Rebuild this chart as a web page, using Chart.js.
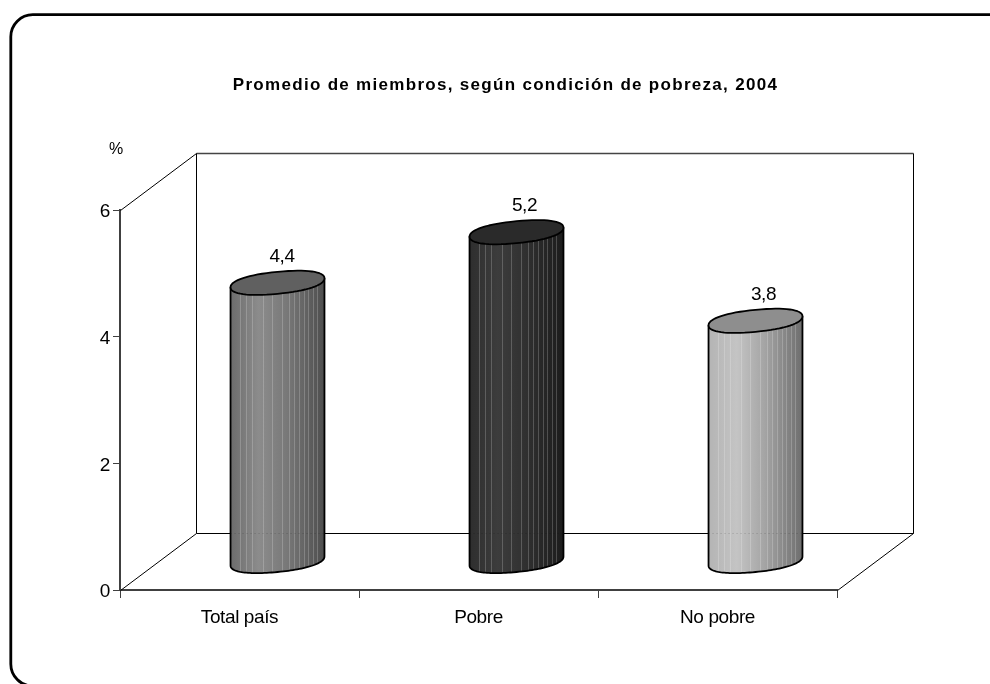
<!DOCTYPE html>
<html><head><meta charset="utf-8">
<style>html,body{margin:0;padding:0;background:#fff;overflow:hidden}canvas{display:block}</style>
<script src="https://cdn.jsdelivr.net/npm/chart.js@4/dist/chart.umd.js"></script>
</head><body><canvas id="c" width="990" height="684"></canvas>
<script>
const categories = ["Total país", "Pobre", "No pobre"];
const values = [4.4, 5.2, 3.8];
const valueLabels = ["4,4", "5,2", "3,8"];
const yTicks = [0, 2, 4, 6];
const chartTitle = "Promedio de miembros, según condición de pobreza, 2004";
const unitLabel = "%";
const topColors = ["#606060", "#2a2a2a", "#8e8e8e"];
const sideStops = [
  ["#6c6c6c", "#8c8c8c", "#787878", "#4e4e4e"],
  ["#2e2e2e", "#3c3c3c", "#303030", "#1c1c1c"],
  ["#b4b4b4", "#c4c4c4", "#a4a4a4", "#6e6e6e"]
];
const stripes = [.10,.16,.23,.35,.44,.55,.62,.68,.73,.78,.83,.88,.92];
const labelNudge = [4.5, 8, 8];
const DX = 76, DY = 57, TILT = 4.5, RY = 11, ROUND = 0.9;
const FONT = '"Liberation Sans",Arial,sans-serif';

function line(ctx, x1, y1, x2, y2, color, w) {
  ctx.beginPath(); ctx.moveTo(x1, y1); ctx.lineTo(x2, y2);
  ctx.strokeStyle = color; ctx.lineWidth = w; ctx.stroke();
}
function rim(path, cx, cy, rx, t0, t1) {
  for (let i = 0; i <= 64; i++) {
    const t = t0 + (t1 - t0) * i / 64;
    const c = Math.cos(t), s = Math.sin(t);
    const X = Math.sign(c) * Math.pow(Math.abs(c), ROUND), Y = Math.sign(s) * Math.pow(Math.abs(s), ROUND);
    path.lineTo(cx + rx * X, cy - TILT * X - RY * Y);
  }
}
const frame = {
  id: "frame",
  afterLayout(chart) {
    const tb = chart.titleBlock;
    tb.left = 21; tb.right = 990;
    const draw = tb.draw;
    tb.draw = function () {
      const ctx = chart.ctx; ctx.save(); ctx.letterSpacing = "1.3px"; draw.call(tb); ctx.restore();
    };
  },
  beforeDraw(chart) {
    const ctx = chart.ctx;
    ctx.letterSpacing = "-0.4px";
    ctx.save();
    ctx.beginPath();
    ctx.moveTo(990, 14.7); ctx.lineTo(33, 14.7);
    ctx.arcTo(10.8, 14.7, 10.8, 37, 22);
    ctx.lineTo(10.8, 664);
    ctx.arcTo(10.8, 686, 33, 686, 22);
    ctx.strokeStyle = "#000"; ctx.lineWidth = 2.8; ctx.stroke();
    ctx.restore();
  },
  beforeDatasetsDraw(chart) {
    const ctx = chart.ctx, a = chart.chartArea;
    const L = a.left + .5, R = a.right + .5, T = a.top + .5, B = a.bottom + .5;
    ctx.save();
    line(ctx, L + DX, T - DY, R + DX, T - DY, "#444", 1.5);
    line(ctx, L + DX, T - DY, L + DX, B - DY, "#000", 1);
    line(ctx, R + DX, T - DY, R + DX, B - DY, "#000", 1);
    line(ctx, L + DX, B - DY, R + DX, B - DY, "#000", 1);
    line(ctx, L, T, L + DX, T - DY, "#000", 1);
    line(ctx, L, B, L + DX, B - DY, "#000", 1);
    line(ctx, R, B, R + DX, B - DY, "#000", 1);
    ctx.restore();
  },
  beforeDatasetDraw(chart, args) {
    const ctx = chart.ctx, a = chart.chartArea;
    chart.getDatasetMeta(args.index).data.forEach((bar, i) => {
      const rx = bar.width / 2, cx = bar.x + DX / 2;
      const topY = bar.y - DY / 2, baseY = bar.base - DY / 2;
      ctx.save();
      const body = new Path2D();
      body.moveTo(cx - rx, topY + TILT);
      body.lineTo(cx - rx, baseY + TILT);
      rim(body, cx, baseY, rx, Math.PI, 2 * Math.PI);
      body.lineTo(cx + rx, topY - TILT);
      body.closePath();
      const g = ctx.createLinearGradient(cx - rx, 0, cx + rx, 0);
      const s = sideStops[i];
      g.addColorStop(0, s[0]); g.addColorStop(.3, s[1]); g.addColorStop(.6, s[2]); g.addColorStop(1, s[3]);
      ctx.fillStyle = g; ctx.fill(body);
      ctx.save(); ctx.clip(body);
      stripes.forEach(f => {
        const x = Math.round(cx - rx + f * 2 * rx) + .5;
        line(ctx, x, topY - 20, x, baseY + 20, "rgba(255,255,255,0.2)", 1);
      });
      ctx.setLineDash([1, 3]);
      line(ctx, cx - rx, a.bottom - DY + .5, cx + rx, a.bottom - DY + .5, "rgba(0,0,0,0.2)", 1);
      ctx.restore();
      ctx.strokeStyle = "#000"; ctx.lineWidth = 1.8; ctx.lineJoin = "round"; ctx.stroke(body);
      const top = new Path2D();
      rim(top, cx, topY, rx, 0, 2 * Math.PI);
      top.closePath();
      ctx.fillStyle = topColors[i]; ctx.fill(top);
      ctx.stroke(top);
      ctx.fillStyle = "#000"; ctx.font = "19px " + FONT;
      ctx.textAlign = "center"; ctx.textBaseline = "middle";
      ctx.fillText(valueLabels[i], cx + labelNudge[i], topY - 26);
      ctx.restore();
    });
    return false;
  },
  afterDraw(chart) {
    const ctx = chart.ctx;
    ctx.save();
    ctx.fillStyle = "#000"; ctx.font = "16px " + FONT;
    ctx.textAlign = "center"; ctx.textBaseline = "middle";
    ctx.fillText(unitLabel, 116, 150);
    ctx.restore();
  }
};
new Chart(document.getElementById("c"), {
  type: "bar",
  data: { labels: categories, datasets: [{ data: values, backgroundColor: topColors, barPercentage: .393, categoryPercentage: 1 }] },
  options: {
    responsive: false, animation: false, devicePixelRatio: 1,
    layout: { padding: { top: 0, left: 0, right: 153, bottom: 0 } },
    plugins: {
      legend: { display: false }, tooltip: { enabled: false },
      title: { display: true, text: chartTitle, color: "#000",
        font: { family: FONT, size: 17, weight: "bold" },
        padding: { top: 75, bottom: 114.6 } }
    },
    scales: {
      x: {
        afterFit(s) { s.height = 94; },
        border: { color: "#404040", width: 2 },
        grid: { drawOnChartArea: false, drawTicks: true, tickLength: 8, color: "#404040" },
        ticks: { color: "#000", font: { family: FONT, size: 19 }, padding: 8, maxRotation: 0 }
      },
      y: {
        min: 0, max: 6,
        afterFit(s) { s.width = 120; },
        afterBuildTicks(s) { s.ticks = yTicks.map(v => ({ value: v })); },
        border: { color: "#404040", width: 2 },
        grid: { drawOnChartArea: false, drawTicks: true, tickLength: 7, color: "#404040" },
        ticks: { color: "#000", font: { family: FONT, size: 19 }, padding: 3, labelOffset: 2 }
      }
    }
  },
  plugins: [frame]
});
</script></body></html>
